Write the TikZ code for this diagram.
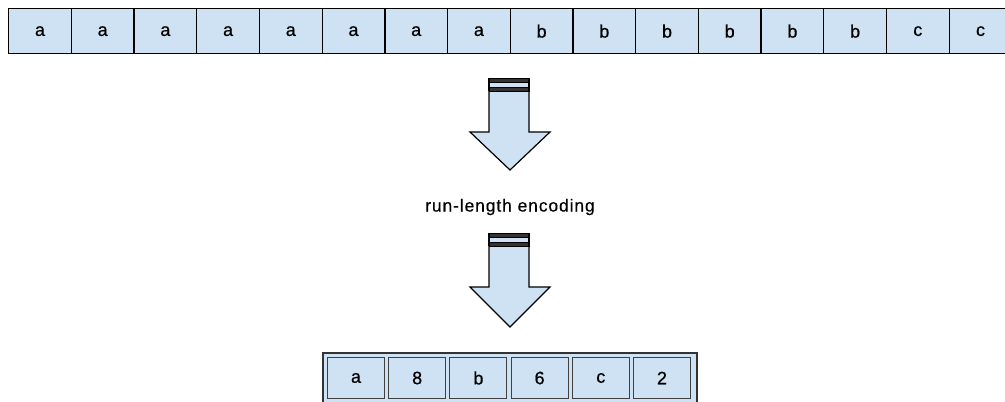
\documentclass[tikz,border=0pt]{standalone}
\usepackage{fontspec}
\setmainfont{Liberation Sans}
\newfontfamily\cellfont[FakeBold=0.6]{Liberation Sans}
\newfontfamily\labelfont[LetterSpace=5,FakeBold=0.4]{Liberation Sans}
\begin{document}
\begin{tikzpicture}[x=1pt,y=-1pt,
  cellfill/.style={fill=cellblue},
  topcell/.style={cellfill, draw=black, line width=1.3pt, minimum width=62.7pt, minimum height=45pt,
    inner sep=0pt, font=\cellfont\fontsize{18}{18}\selectfont, anchor=north west},
  outcell/.style={cellfill, draw=black!75, line width=1pt, minimum width=57pt, minimum height=41pt,
    inner sep=0pt, font=\cellfont\fontsize{18}{18}\selectfont, anchor=north west},
  label/.style={font=\labelfont\fontsize{17.5}{17.5}\selectfont, inner sep=0pt},
  arrowbody/.style={fill=cellblue, draw=black, line width=1.2pt, line join=miter},
  band/.style={fill=black!80, draw=black, line width=0.6pt}
]
\definecolor{cellblue}{HTML}{CFE2F3}
\useasboundingbox (0,0) rectangle (1005,402);
\begin{scope}
\clip (0,0) rectangle (1005,402);

% input string, one letter per cell
\foreach \ch [count=\i from 0] in {a,a,a,a,a,a,a,a,b,b,b,b,b,b,c,c}
  \node[topcell] (in\i) at ({8+62.7*\i},8) {\ch};

% arrow glyph: banded shaft ending in a wide head
\foreach \n/\top/\base/\tip in {arrA/78/132/170, arrB/233/287/327}{
  \coordinate (\n) at (510,\top);
  \fill[cellblue] (489,\top) rectangle (529,{\top+13});
  \draw[arrowbody] (489,{\top+13}) -- (529,{\top+13}) -- (529,\base) -- (550,\base)
    -- (510,\tip) -- (470,\base) -- (489,\base) -- cycle;
  \draw[band] (489,\top) rectangle (529,{\top+4});
  \draw[band] (489,{\top+9}) rectangle (529,{\top+13});
  \draw[black, line width=1.2pt] (489,\top) -- (489,{\top+13}) (529,\top) -- (529,{\top+13});
}

\node[label] (rle) at (510,207) {run-length encoding};

% encoded output: symbol/count pairs in a frame
\draw[cellfill, draw=black!80, line width=1.3pt] (323,353) rectangle (697,408);
\foreach \ch [count=\i from 0] in {a,8,b,6,c,2}
  \node[outcell] (out\i) at ({327+61.2*\i},357) {\ch};
\end{scope}
\end{tikzpicture}
\end{document}
